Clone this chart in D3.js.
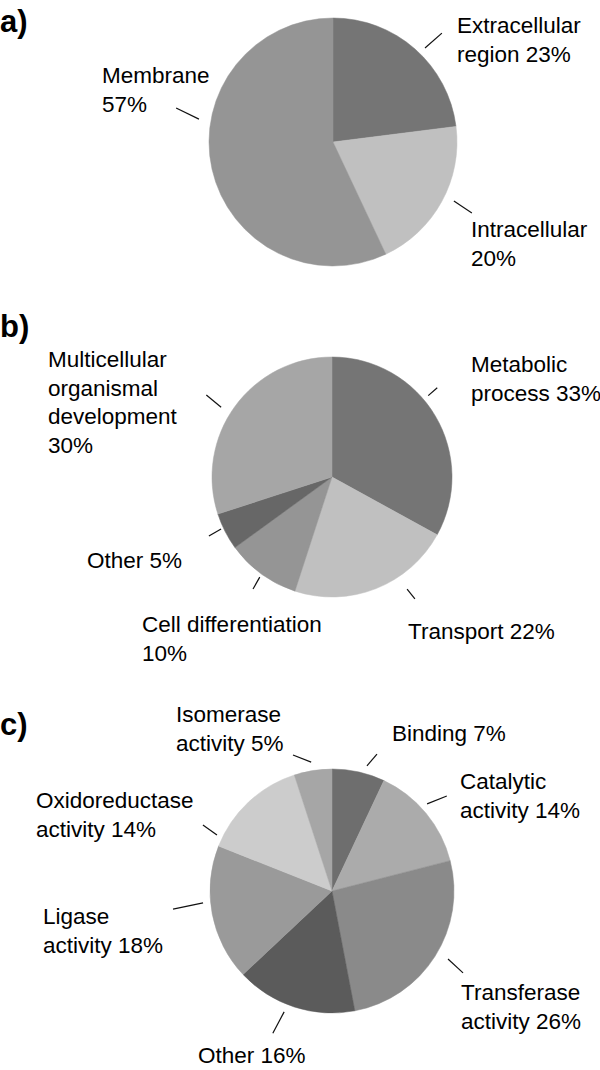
<!DOCTYPE html>
<html>
<head>
<meta charset="utf-8">
<script src="https://cdn.jsdelivr.net/npm/d3@7"></script>
<style>
  html, body { margin: 0; padding: 0; background: #fff; }
  svg { display: block; }
  text { font-family: "Liberation Sans", Arial, Helvetica, sans-serif; fill: #000; }
</style>
</head>
<body>
<svg id="chart" width="600" height="1070"></svg>
<script>
// ---------- data ----------
const panelLetters = ["a)", "b)", "c)"];

const aCategories = ["Extracellular region", "Intracellular", "Membrane"];
const aValues     = [23, 20, 57];
const aLabels     = [["Extracellular", "region 23%"], ["Intracellular", "20%"], ["Membrane", "57%"]];

const bCategories = ["Metabolic process", "Transport", "Cell differentiation", "Other", "Multicellular organismal development"];
const bValues     = [33, 22, 10, 5, 30];
const bLabels     = [["Metabolic", "process 33%"], ["Transport 22%"], ["Cell differentiation", "10%"], ["Other 5%"], ["Multicellular", "organismal", "development", "30%"]];

const cCategories = ["Binding", "Catalytic activity", "Transferase activity", "Other", "Ligase activity", "Oxidoreductase activity", "Isomerase activity"];
const cValues     = [7, 14, 26, 16, 18, 14, 5];
const cLabels     = [["Binding 7%"], ["Catalytic", "activity 14%"], ["Transferase", "activity 26%"], ["Other 16%"], ["Ligase", "activity 18%"], ["Oxidoreductase", "activity 14%"], ["Isomerase", "activity 5%"]];

// ---------- layout / style (not data) ----------
const aColors = ["#757575", "#c0c0c0", "#959595"];
const bColors = ["#757575", "#c0c0c0", "#959595", "#676767", "#a6a6a6"];
const cColors = ["#6e6e6e", "#ababab", "#8a8a8a", "#5b5b5b", "#9a9a9a", "#cccccc", "#a6a6a6"];

const panels = [
  { letterY: 32, cx: 333, cy: 142, r: 124, cats: aCategories, vals: aValues, labels: aLabels, colors: aColors,
    // label anchor offsets from centre (first baseline)
    labelPos: [[124, -109], [138, 95], [-231, -59]],
    // leader lines: [angle1 deg, dist1, angle2 deg, dist2]
    leaders: [[44.4, 131.5, 45, 154], [116, 134.5, 117.1, 156], [282.2, 160.5, 279.7, 136]] },
  { letterY: 337, cx: 332, cy: 477, r: 120, cats: bCategories, vals: bValues, labels: bLabels, colors: bColors,
    labelPos: [[139, -105], [76, 162], [-190, 155], [-245, 91], [-284, -110]],
    leaders: [[49.8, 126, 49.7, 138], [146.2, 135, 145.8, 147.5], [215.2, 137, 215.8, 123.5], [244.4, 136.5, 244.9, 122.5], [303.1, 150, 302.2, 131]] },
  { letterY: 735, cx: 332, cy: 891, r: 122, cats: cCategories, vals: cValues, labels: cLabels, colors: cColors,
    labelPos: [[60, -150], [128, -102], [129, 109], [-134, 172], [-289, 33], [-296, -83], [-156, -169]],
    leaders: [[15.6, 130, 18.2, 144], [47.5, 129, 50.4, 149], [120.4, 134.5, 122, 154.5], [202.6, 154, 201.6, 130], [263.5, 160, 264.7, 129.5], [297.1, 145, 296, 128], [344, 141.5, 350.8, 130.5]] }
];

const fontSize = 22.5;
const lineH = 28.5;

const svg = d3.select("#chart");

const pie = d3.pie().sort(null).value(d => d.v);

const polar = (deg, dist) => {
  const a = deg * Math.PI / 180;
  return [dist * Math.sin(a), -dist * Math.cos(a)];
};

panels.forEach((p, pi) => {
  svg.append("text")
    .attr("x", 0).attr("y", p.letterY)
    .attr("font-size", 31).attr("font-weight", "bold")
    .text(panelLetters[pi]);

  const rows = p.cats.map((c, i) => ({ c, v: p.vals[i], label: p.labels[i], color: p.colors[i],
                                        pos: p.labelPos[i], leader: p.leaders[i] }));
  const arcs = pie(rows);
  const arc = d3.arc().innerRadius(0).outerRadius(p.r);

  const g = svg.append("g").attr("transform", `translate(${p.cx},${p.cy})`);

  g.selectAll("path.slice").data(arcs).enter().append("path")
    .attr("class", "slice")
    .attr("d", arc)
    .attr("fill", d => d.data.color)
    .attr("stroke", d => d.data.color)
    .attr("stroke-width", 0.5);

  g.selectAll("line.leader").data(arcs).enter().append("line")
    .attr("class", "leader")
    .attr("x1", d => polar(d.data.leader[0], d.data.leader[1])[0])
    .attr("y1", d => polar(d.data.leader[0], d.data.leader[1])[1])
    .attr("x2", d => polar(d.data.leader[2], d.data.leader[3])[0])
    .attr("y2", d => polar(d.data.leader[2], d.data.leader[3])[1])
    .attr("stroke", "#111").attr("stroke-width", 1.2);

  const lbl = g.selectAll("text.lbl").data(arcs).enter().append("text")
    .attr("class", "lbl")
    .attr("font-size", fontSize)
    .attr("x", d => d.data.pos[0])
    .attr("y", d => d.data.pos[1]);
  lbl.selectAll("tspan").data(d => d.data.label.map(t => ({ t, x: d.data.pos[0] }))).enter()
    .append("tspan")
    .attr("x", d => d.x)
    .attr("dy", (d, i) => i === 0 ? 0 : lineH)
    .text(d => d.t);
});
</script>
</body>
</html>
